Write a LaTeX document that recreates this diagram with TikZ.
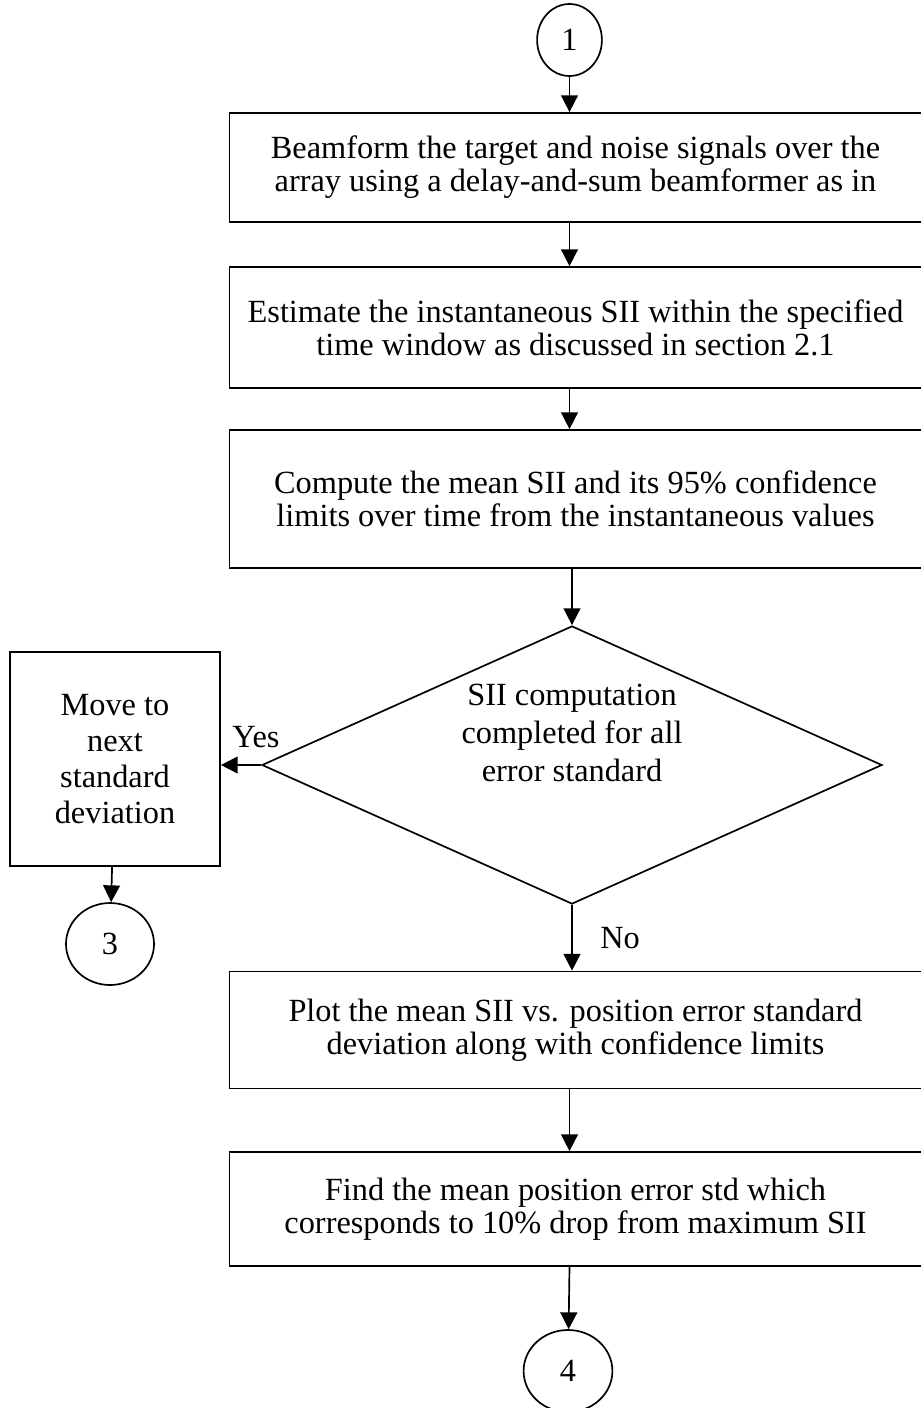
\documentclass[tikz,border=0pt]{standalone}
\usepackage{fontspec}
\setmainfont{Liberation Serif}
\usetikzlibrary{shapes.geometric,arrows.meta}

\begin{document}
\begin{tikzpicture}[x=0.025cm, y=-0.025cm, line width=1.2pt,
    font=\fontsize{23}{23.5}\selectfont,
    >={Triangle[width=0.42cm, length=0.42cm]},
    process/.style={rectangle, draw, align=center, minimum width=17.3cm},
    decision/.style={diamond, draw, inner sep=0pt},
    connector/.style={ellipse, draw, inner sep=0pt}]
    \useasboundingbox (0,0) rectangle (921,1408);

    \node[connector, minimum width=1.62cm, minimum height=1.8cm] (c1) at (569.5,40) {1};
    \node[process, minimum height=2.725cm] (beamform) at (575.5,167.5) {Beamform the target and noise signals over the\\array using a delay-and-sum beamformer as in};
    \node[process, minimum height=3.025cm] (estimate) at (575.5,327.5) {Estimate the instantaneous SII within the specified\\time window as discussed in section 2.1};
    \node[process, minimum height=3.45cm] (compute) at (575.5,499) {Compute the mean SII and its 95\% confidence\\limits over time from the instantaneous values};
    \node[decision, minimum width=15.5cm, minimum height=6.95cm,
        label={[yshift=0.8cm, align=center, font=\fontsize{23}{27}\selectfont]center:SII computation\\completed for all\\error standard}] (check) at (572,765) {};
    \node[process, minimum width=5.25cm, minimum height=5.35cm, font=\fontsize{23}{25.5}\selectfont] (move) at (115,759) {Move to\\next\\standard\\deviation};
    \node[connector, minimum width=2.2cm, minimum height=2.05cm] (c3) at (110,944) {3};
    \node[process, minimum height=2.925cm] (plot) at (575.5,1030) {Plot the mean SII vs. position error standard\\deviation along with confidence limits};
    \node[process, minimum height=2.85cm] (find) at (575.5,1209) {Find the mean position error std which\\corresponds to 10\% drop from maximum SII};
    \node[connector, minimum width=2.22cm, minimum height=2.05cm] (c4) at (568,1371) {4};

    \draw[->] (c1) -- (c1 |- beamform.north);
    \draw[->] (c1 |- beamform.south) -- (c1 |- estimate.north);
    \draw[->] (c1 |- estimate.south) -- (c1 |- compute.north);
    \draw[->] (check |- compute.south) -- (check);
    \draw[->] (check.west) -- (move.east |- check.west) node[midway, above, xshift=0.375cm, yshift=8pt] {Yes};
    \draw[->] (move) -- (c3);
    \draw[->] (check) -- (check |- plot.north) node[midway, right, xshift=0.57cm] {No};
    \draw[->] (c1 |- plot.south) -- (c1 |- find.north);
    \draw[->] (c1 |- find.south) -- (c4);
\end{tikzpicture}
\end{document}
